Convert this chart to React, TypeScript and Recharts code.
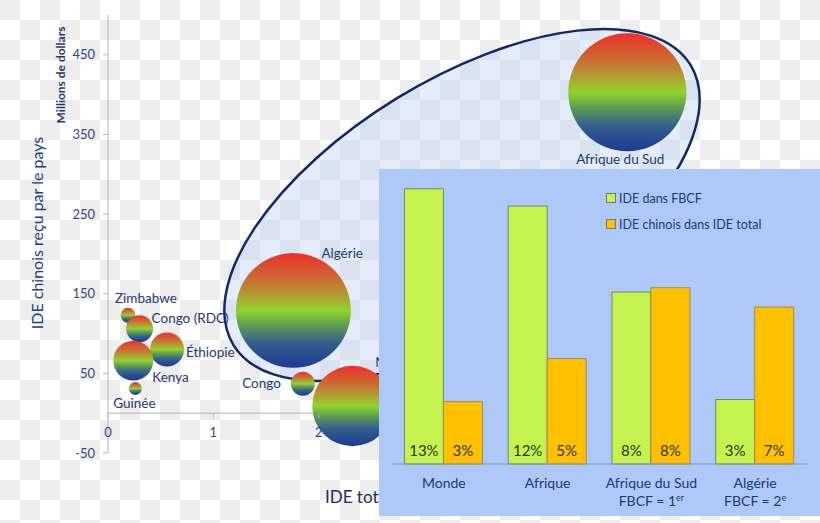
import {
  ScatterChart,
  Scatter,
  XAxis,
  YAxis,
  ZAxis,
  ReferenceLine,
  BarChart,
  Bar,
  LabelList,
} from "recharts";

// bubble chart: IDE total (x), IDE chinois (y), bubble size (z)
const countries = [
  "Zimbabwe",
  "Congo (RDC)",
  "Éthiopie",
  "Kenya",
  "Guinée",
  "Congo",
  "Algérie",
  "Nigeria",
  "Afrique du Sud",
];
const ideTotal = [0.19, 0.3, 0.56, 0.24, 0.26, 1.85, 1.76, 2.32, 4.93];
const ideChinois = [123, 106, 80, 66, 31, 37, 129, 9, 403];
const bubbleSize = [1.6, 5.2, 8.3, 11.4, 1.2, 4.1, 94, 46, 99.5];
const yTicks = [-50, 50, 150, 250, 350, 450];
const xTicks = [0, 1, 2, 3, 4, 5, 6];

// inset bar chart
const regions = ["Monde", "Afrique", "Afrique du Sud", "Algérie"];
const regionNotes = ["", "", "FBCF = 1", "FBCF = 2"];
const regionNoteSup = ["", "", "er", "e"];
const ideDansFbcf = [12.8, 12.0, 8.0, 3.0];
const ideChinoisDansTotal = [2.9, 4.9, 8.2, 7.3];

const bubbles = countries.map((name, i) => ({
  name,
  x: ideTotal[i],
  y: ideChinois[i],
  z: bubbleSize[i],
}));

const barData = regions.map((name, i) => ({
  name,
  fbcf: ideDansFbcf[i],
  chinois: ideChinoisDansTotal[i],
}));

const FONT = "Lato, 'DejaVu Sans', sans-serif";
const NAVY = "#1f3a70";

const W = 820;
const H = 523;
const M = { top: 15, right: 80, bottom: 40, left: 48 };
const X_AXIS_H = 30;
const Y_MIN = -50;
const Y_MAX = 500;
const PLOT_H = H - M.top - M.bottom - X_AXIS_H;
const zeroY = M.top + (Y_MAX / (Y_MAX - Y_MIN)) * PLOT_H;

const labelPlace: Record<string, { dx: number; dy: number; anchor: string }> = {
  Zimbabwe: { dx: -13, dy: -17, anchor: "start" },
  "Congo (RDC)": { dx: 12, dy: -10, anchor: "start" },
  "Éthiopie": { dx: 19, dy: 3, anchor: "start" },
  Kenya: { dx: 19, dy: 17, anchor: "start" },
  "Guinée": { dx: -1, dy: 15, anchor: "middle" },
  Congo: { dx: -22, dy: 0, anchor: "end" },
  "Algérie": { dx: 28, dy: -57, anchor: "start" },
  Nigeria: { dx: 23, dy: -44, anchor: "start" },
  "Afrique du Sud": { dx: -7, dy: 67, anchor: "middle" },
};

const Bubble = (props: any) => {
  const { cx, cy, payload } = props;
  const r = props.width ? props.width / 2 : Math.sqrt((props.size ?? 64) / Math.PI);
  const p = labelPlace[payload.name];
  return (
    <g>
      <circle cx={cx} cy={cy} r={r} fill="url(#bubbleGrad)" />
      {p && (
        <text
          x={cx + p.dx}
          y={cy + p.dy}
          dy="0.35em"
          textAnchor={p.anchor as any}
          fontSize={13.5}
          fontFamily={FONT}
          fill={NAVY}
        >
          {payload.name}
        </text>
      )}
    </g>
  );
};

const XTick = ({ x, payload }: any) => (
  <g>
    <line x1={x} x2={x} y1={zeroY} y2={zeroY + 5} stroke="#b5b5b5" />
    <text
      x={x}
      y={zeroY + 19}
      dy="0.35em"
      textAnchor="middle"
      fontSize={13}
      fontFamily={FONT}
      fill="#2f4b7c"
    >
      {payload.value}
    </text>
  </g>
);

const RegionTick = ({ x, y, payload }: any) => {
  const i = regions.indexOf(payload.value);
  return (
    <text x={x} y={y + 11} textAnchor="middle" fontSize={14} fontFamily={FONT} fill={NAVY}>
      <tspan x={x} dy="0.35em">
        {payload.value}
      </tspan>
      {regionNotes[i] && (
        <tspan x={x} dy={18}>
          {regionNotes[i]}
          <tspan dy={-5} fontSize={9}>
            {regionNoteSup[i]}
          </tspan>
        </tspan>
      )}
    </text>
  );
};

const legendItems = [
  { label: "IDE dans FBCF", color: "#c5f24f" },
  { label: "IDE chinois dans IDE total", color: "#ffc000" },
];

export default function App() {
  return (
    <div
      style={{
        position: "absolute",
        left: 0,
        top: 0,
        width: W,
        height: H,
        overflow: "hidden",
        fontFamily: FONT,
        background:
          "repeating-conic-gradient(#ffffff 0% 25%, #ededed 0% 50%) 0 0 / 40px 40px",
      }}
    >
      <svg width={W} height={H} style={{ position: "absolute", left: 0, top: 0 }}>
        <ellipse
          cx={462}
          cy={205}
          rx={268}
          ry={125}
          transform="rotate(-31.5 462 205)"
          fill="rgba(190,210,245,0.4)"
          stroke="#0e2a6a"
          strokeWidth={2.5}
        />
        <text
          transform="translate(37 233) rotate(-90)"
          textAnchor="middle"
          dy="0.35em"
          fontSize={16}
          fontFamily={FONT}
          fill="#213f7c"
        >
          IDE chinois reçu par le pays
        </text>
        <text
          transform="translate(61 75) rotate(-90)"
          textAnchor="middle"
          dy="0.35em"
          fontSize={12}
          fontWeight="bold"
          fontFamily={FONT}
          fill="#1f3a73"
        >
          Millions de dollars
        </text>
        <text x={325} y={497} dy="0.35em" fontSize={17} fontFamily={FONT} fill="#1f2f5f">
          IDE total
        </text>
      </svg>

      <div style={{ position: "absolute", left: 0, top: 0 }}>
        <ScatterChart width={W} height={H} margin={M}>
          <defs>
            <linearGradient id="bubbleGrad" x1="0" y1="0" x2="0" y2="1">
              <stop offset="0%" stopColor="#ee2f2a" />
              <stop offset="22%" stopColor="#cc6a32" />
              <stop offset="36%" stopColor="#b39a33" />
              <stop offset="50%" stopColor="#90d42c" />
              <stop offset="62%" stopColor="#62a04e" />
              <stop offset="78%" stopColor="#34608e" />
              <stop offset="100%" stopColor="#1d3a92" />
            </linearGradient>
          </defs>
          <XAxis
            type="number"
            dataKey="x"
            domain={[0, 6]}
            ticks={xTicks}
            height={X_AXIS_H}
            axisLine={false}
            tickLine={false}
            tick={<XTick />}
          />
          <YAxis
            type="number"
            dataKey="y"
            domain={[Y_MIN, Y_MAX]}
            ticks={yTicks}
            width={60}
            axisLine={{ stroke: "#b5b5b5" }}
            tickLine={{ stroke: "#b5b5b5" }}
            tickSize={5}
            tickMargin={8}
            tick={{ fontSize: 13, fontFamily: FONT, fill: "#2f4b7c" }}
          />
          <ZAxis type="number" dataKey="z" domain={[0, 100]} range={[0, 11010]} />
          <ReferenceLine y={0} stroke="#b5b5b5" />
          <Scatter data={bubbles} shape={<Bubble />} isAnimationActive={false} />
        </ScatterChart>
      </div>

      <div
        style={{
          position: "absolute",
          left: 379,
          top: 169,
          width: 441,
          height: 347,
          background: "#aec9f7",
        }}
      >
        <BarChart
          width={441}
          height={347}
          data={barData}
          margin={{ top: 15.5, right: 13, left: 13, bottom: 0 }}
          barCategoryGap="12%"
          barGap={0}
        >
          <XAxis
            dataKey="name"
            height={52}
            axisLine={{ stroke: "#8597ba" }}
            tickLine={false}
            tick={<RegionTick />}
            interval={0}
          />
          <YAxis hide domain={[0, 13]} />
          <Bar dataKey="fbcf" fill="#c5f24f" stroke="#6d8a60" isAnimationActive={false}>
            <LabelList
              dataKey="fbcf"
              position="insideBottom"
              offset={8}
              formatter={(v: any) => `${Math.round(Number(v))}%`}
              fill="#2a3520"
              fontSize={15}
              fontFamily={FONT}
            />
          </Bar>
          <Bar dataKey="chinois" fill="#ffc000" stroke="#a08a5a" isAnimationActive={false}>
            <LabelList
              dataKey="chinois"
              position="insideBottom"
              offset={8}
              formatter={(v: any) => `${Math.round(Number(v))}%`}
              fill="#2a3520"
              fontSize={15}
              fontFamily={FONT}
            />
          </Bar>
        </BarChart>
        <div style={{ position: "absolute", left: 227, top: 16 }}>
          {legendItems.map((it) => (
            <div
              key={it.label}
              style={{ display: "flex", alignItems: "center", height: 26, color: NAVY, fontSize: 12.5 }}
            >
              <span
                style={{
                  display: "inline-block",
                  width: 8,
                  height: 8,
                  background: it.color,
                  border: "1px solid #6f7d6a",
                  marginRight: 3,
                }}
              />
              {it.label}
            </div>
          ))}
        </div>
      </div>
    </div>
  );
}
